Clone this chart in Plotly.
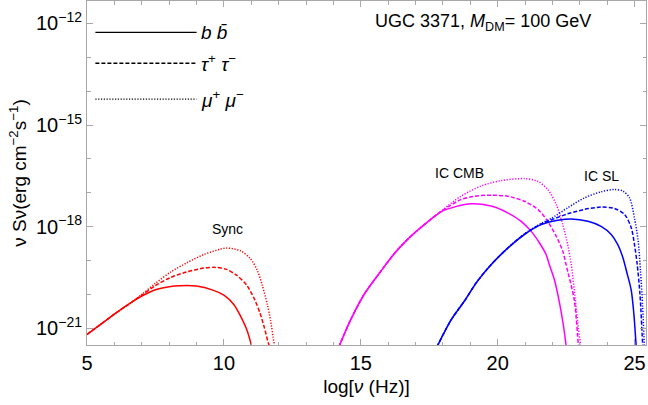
import numpy as np
import plotly.graph_objects as go

# ---------------- data (x = log10 nu [Hz], y = log10 nu S_nu [erg cm^-2 s^-1]) ----------------
sync_bb_x = [5.0, 5.5, 6.0, 6.5, 7.0, 7.5, 8.0, 8.4, 9.0, 9.6, 10.0, 10.37, 10.61, 10.85, 11.01, 11.08]
sync_bb_y = [-21.18, -20.88, -20.58, -20.3, -20.05, -19.86, -19.77, -19.74, -19.75, -19.87, -20.02, -20.3, -20.64, -21.07, -21.52, -21.8]

sync_tt_x = [5.0, 5.5, 6.0, 6.5, 7.0, 7.5, 8.05, 8.66, 9.27, 9.7, 10.1, 10.46, 10.83, 11.13, 11.32, 11.48, 11.6, 11.66, 11.72]
sync_tt_y = [-21.18, -20.88, -20.58, -20.3, -20.02, -19.74, -19.5, -19.33, -19.22, -19.2, -19.26, -19.43, -19.72, -20.16, -20.55, -20.98, -21.37, -21.52, -21.8]

sync_mm_x = [5.0, 5.5, 6.0, 6.5, 7.0, 7.5, 8.05, 8.66, 9.27, 9.88, 10.1, 10.61, 10.98, 11.22, 11.4, 11.59, 11.71, 11.8, 11.85, 11.9]
sync_mm_y = [-21.18, -20.88, -20.58, -20.3, -20.0, -19.67, -19.34, -19.06, -18.82, -18.66, -18.63, -18.71, -18.95, -19.29, -19.72, -20.3, -20.79, -21.27, -21.52, -21.8]

cmb_bb_x = [14.2, 14.6, 15.12, 15.7, 16.22, 16.7, 17.2, 17.93, 18.5, 19.03, 19.76, 20.37, 20.86, 21.22, 21.53, 21.77, 21.89, 22.07, 22.25, 22.4, 22.5, 22.55]
cmb_bb_y = [-21.55, -20.8, -20.0, -19.35, -18.8, -18.38, -18.02, -17.56, -17.4, -17.32, -17.39, -17.59, -17.84, -18.13, -18.48, -18.82, -19.12, -19.55, -20.2, -20.9, -21.5, -21.9]

cmb_tt_x = [14.2, 14.6, 15.12, 15.7, 16.22, 16.7, 17.2, 17.93, 18.66, 19.15, 19.76, 20.37, 20.98, 21.47, 21.83, 22.14, 22.38, 22.5, 22.8, 22.95, 23.0]
cmb_tt_y = [-21.55, -20.8, -20.0, -19.35, -18.8, -18.38, -18.02, -17.55, -17.2, -17.1, -17.07, -17.1, -17.25, -17.49, -17.84, -18.28, -18.72, -19.12, -20.16, -21.5, -21.9]

cmb_mm_x = [14.2, 14.6, 15.12, 15.7, 16.22, 16.7, 17.2, 17.93, 18.66, 19.39, 20.12, 20.98, 21.47, 21.83, 22.14, 22.38, 22.56, 22.69, 22.8, 22.95, 23.03, 23.07]
cmb_mm_y = [-21.55, -20.8, -20.0, -19.35, -18.8, -18.38, -18.02, -17.54, -17.1, -16.8, -16.64, -16.58, -16.66, -16.9, -17.34, -17.94, -18.53, -19.12, -19.87, -21.0, -21.5, -21.9]

sl_bb_x = [17.78, 18.3, 18.78, 19.25, 19.76, 20.37, 20.98, 21.59, 22.2, 22.69, 23.3, 23.78, 24.15, 24.39, 24.58, 24.72, 24.88, 24.98, 25.06, 25.1]
sl_bb_y = [-21.55, -20.75, -20.2, -19.62, -19.12, -18.63, -18.23, -17.94, -17.81, -17.77, -17.84, -17.99, -18.23, -18.53, -18.92, -19.35, -19.87, -20.6, -21.5, -21.9]

sl_tt_x = [17.78, 18.3, 18.78, 19.25, 19.76, 20.37, 20.98, 21.59, 21.95, 22.56, 23.17, 23.78, 24.27, 24.64, 24.88, 25.0, 25.1, 25.2, 25.3, 25.33]
sl_tt_y = [-21.55, -20.75, -20.2, -19.62, -19.12, -18.63, -18.22, -17.92, -17.8, -17.62, -17.49, -17.42, -17.46, -17.64, -18.03, -18.53, -19.12, -20.0, -21.5, -21.9]

sl_mm_x = [17.78, 18.3, 18.78, 19.25, 19.76, 20.37, 20.98, 21.59, 21.95, 22.56, 23.17, 23.78, 24.27, 24.58, 24.82, 25.0, 25.13, 25.22, 25.3, 25.36, 25.4]
sl_mm_y = [-21.55, -20.75, -20.2, -19.62, -19.12, -18.63, -18.21, -17.9, -17.76, -17.44, -17.15, -16.97, -16.9, -16.95, -17.15, -17.75, -18.4, -19.3, -20.4, -21.5, -21.9]

x_ticks = [5, 10, 15, 20, 25]
y_ticks_exp = [-21, -18, -15, -12]
y_tick_text = ["10<sup>−21</sup>", "10<sup>−18</sup>", "10<sup>−15</sup>", "10<sup>−12</sup>"]

RED, MAG, BLUE = "#ff0000", "#ff00ff", "#0000ff"
DASH = "4px,2px"
DOT = "1.2px,1.6px"
FONT = "Liberation Sans, Arial, sans-serif"
GRAY = "#a8a8a8"

series = [
    (sync_bb_x, sync_bb_y, RED, "solid"),
    (sync_tt_x, sync_tt_y, RED, DASH),
    (sync_mm_x, sync_mm_y, RED, DOT),
    (cmb_bb_x, cmb_bb_y, MAG, "solid"),
    (cmb_tt_x, cmb_tt_y, MAG, DASH),
    (cmb_mm_x, cmb_mm_y, MAG, DOT),
    (sl_bb_x, sl_bb_y, BLUE, "solid"),
    (sl_tt_x, sl_tt_y, BLUE, DASH),
    (sl_mm_x, sl_mm_y, BLUE, DOT),
]

fig = go.Figure()
for xs, ys, col, dash in series:
    fig.add_trace(go.Scatter(
        x=xs, y=10.0 ** np.array(ys), mode="lines",
        line=dict(color=col, width=1.5, dash=dash, shape="spline", smoothing=0.8),
        showlegend=False, hoverinfo="skip"))

fig.update_layout(
    width=648, height=405,
    margin=dict(l=87, r=2, t=1, b=60),
    plot_bgcolor="white", paper_bgcolor="white",
    font=dict(family=FONT, color="black", size=19),
)
fig.update_xaxes(
    range=[5, 25.42], tickvals=x_ticks, ticks="inside", ticklen=6, tickcolor=GRAY,
    showline=True, linecolor=GRAY, linewidth=1, mirror="ticks", showgrid=False, zeroline=False,
    tickfont=dict(size=20), automargin=False,
    minor=dict(dtick=1, ticks="inside", ticklen=3.5, tickcolor=GRAY, showgrid=False),
    title=dict(text="log[<i>ν</i> (Hz)]", font=dict(size=19), standoff=6),
)
fig.update_yaxes(
    type="log", range=[-21.49, -11.34],
    tickvals=[10.0 ** e for e in y_ticks_exp], ticktext=y_tick_text,
    ticks="inside", ticklen=6, tickcolor=GRAY,
    showline=True, linecolor=GRAY, linewidth=1, mirror="ticks", showgrid=False, zeroline=False,
    tickfont=dict(size=20), automargin=False,
    minor=dict(tickvals=[10.0 ** e for e in range(-22, -11)], ticks="inside", ticklen=3.5,
               tickcolor=GRAY, showgrid=False),
    title=dict(text="ν Sν(erg cm<sup>−2</sup>s<sup>−1</sup>)", font=dict(size=19), standoff=4),
)

# region labels
labels = [("Sync", 10.12, -18.08), ("IC CMB", 18.6, -16.42), ("IC SL", 23.81, -16.5)]
for txt, lx, ly in labels:
    fig.add_annotation(x=lx, y=ly, text=txt, showarrow=False, font=dict(size=14),
                       xanchor="center", yanchor="middle")

fig.add_annotation(xref="paper", yref="paper", x=0.709, y=0.937,
                   text="UGC 3371, <i>M</i><sub>DM</sub>= 100 GeV", showarrow=False,
                   font=dict(size=18), xanchor="center", yanchor="middle")

# legend drawn inside the frame
legend_items = [("<i>b</i> <i>b̄</i>", "solid", 0.909), ("<i>τ</i><sup>+</sup> <i>τ</i><sup>−</sup>", DASH, 0.819),
                ("<i>μ</i><sup>+</sup> <i>μ</i><sup>−</sup>", DOT, 0.715)]
for txt, dash, yy in legend_items:
    fig.add_shape(type="line", xref="paper", yref="paper", x0=0.015, x1=0.196, y0=yy, y1=yy,
                  line=dict(color="black", width=1.3, dash=dash))
    fig.add_annotation(xref="paper", yref="paper", x=0.2, y=yy, text=txt, showarrow=False,
                       font=dict(size=19), xanchor="left", yanchor="middle")

fig.write_html("out.html", config={"displayModeBar": False},
               post_script="document.body.style.margin='0';document.body.style.overflow='hidden';")
